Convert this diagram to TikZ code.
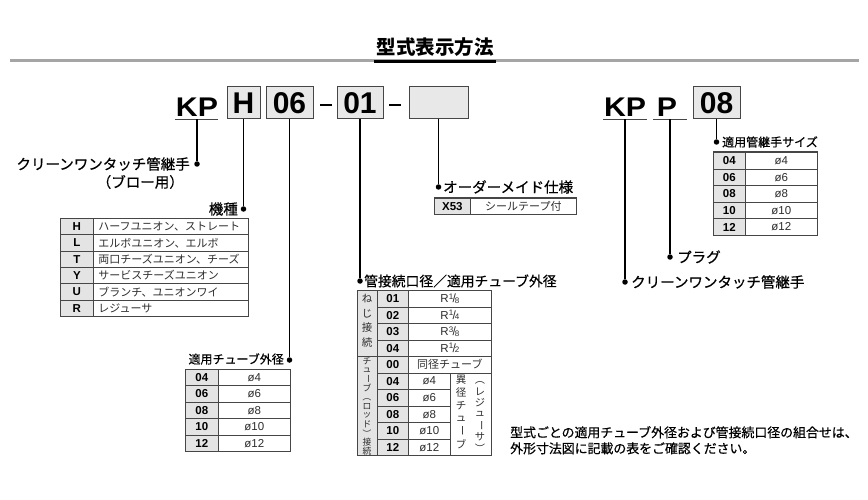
\documentclass[tikz,border=0pt]{standalone}
\usepackage{fontspec}
\setmainfont{Liberation Sans}
\newfontfamily\jp{Noto Sans CJK JP}
\newfontfamily\jpm[FakeBold=0.6]{Noto Sans CJK JP}
\definecolor{rulegray}{RGB}{165,165,165}
\definecolor{cellgray}{RGB}{228,228,228}
\definecolor{boxgray}{RGB}{232,232,232}
\definecolor{gridc}{RGB}{70,70,70}
\definecolor{txtc}{RGB}{45,45,45}
\newcommand\myfrac[2]{\raisebox{3.6pt}{\fontsize{8}{8}\selectfont #1}\kern-0.6pt{\fontsize{12}{12}\selectfont /}\kern-1.2pt\raisebox{-0.6pt}{\fontsize{8}{8}\selectfont #2}}
\begin{document}
\begin{tikzpicture}[x=1pt,y=-1pt,
  conn/.style={line width=1.1pt,black},
  dot/.style={circle,fill=black,inner sep=0pt,minimum size=5.5pt},
  lbl/.style={inner sep=0pt,font=\jpm\fontsize{14.5}{14.5}\selectfont},
  slbl/.style={inner sep=0pt,font=\jpm\fontsize{12}{12}\selectfont},
  bigtxt/.style={inner sep=0pt,anchor=base,font=\bfseries\fontsize{27}{27}\selectfont},
  codebox/.style={draw=gridc,line width=1pt,fill=boxgray,inner sep=0pt,minimum height=32pt,font=\bfseries\fontsize{30}{30}\selectfont},
  codecell/.style={draw=gridc,line width=0.7pt,fill=cellgray,inner sep=0pt,anchor=north west,font=\bfseries\fontsize{11.5}{11.5}\selectfont},
  valcell/.style={draw=gridc,line width=0.7pt,fill=white,inner sep=0pt,anchor=north west,text=txtc,font=\fontsize{11.5}{11.5}\selectfont},
  jcell/.style={draw=gridc,line width=0.7pt,fill=white,inner xsep=5pt,inner ysep=0pt,anchor=north west,align=left,text=txtc,font=\jp\fontsize{11}{11}\selectfont},
  vtxt/.style={inner sep=0pt,text=txtc,font=\jp\fontsize{10.5}{10.5}\selectfont},
  vstxt/.style={inner sep=0pt,text=txtc,font=\jp\fontsize{8.8}{8.8}\selectfont},
  vmtxt/.style={inner sep=0pt,text=txtc,font=\jp\fontsize{10.2}{10.2}\selectfont},
  frame/.style={draw=gridc,line width=1pt}
]
\useasboundingbox (0,0) rectangle (868,500);

% header
\node[inner sep=0pt,anchor=base,font=\jp\bfseries\fontsize{19.5}{19.5}\selectfont] (title) at (435,55) {型式表示方法};
\draw[rulegray,line width=3pt] (10,61) -- (859,61);
\draw[black,line width=2.6pt] (374,61.5) -- (496,61.5);

% ---------- KP H 06 - 01 - [ ] ----------
\node[bigtxt] (kp1) at (197,117) {\scalebox{1.12}[1]{KP}};
\draw[gridc,line width=1pt] (175,119.5) -- (218,119.5);
\coordinate (kp1u) at (197,119.5);
\node[codebox,minimum width=33pt] (hb) at (243.5,103) {H};
\node[codebox,minimum width=47pt] (b06) at (289.5,103) {06};
\draw[line width=2.6pt] (320,105) -- (332,105);
\node[codebox,minimum width=46pt] (b01) at (360,103) {01};
\draw[line width=2.6pt] (389,105) -- (401,105);
\node[codebox,minimum width=59pt] (bopt) at (438.5,103) {};

% dots
\node[dot] (d1) at (197,164) {};
\node[dot] (d2) at (243.5,209) {};
\node[dot] (d3) at (289.5,360) {};
\node[dot] (d4) at (360,281) {};
\node[dot] (d5) at (438.5,187) {};
\draw[conn] (kp1u) -- (d1);
\draw[conn] (hb.south) -- (d2);
\draw[conn] (b06.south) -- (d3);
\draw[conn] (b01.south) -- (d4);
\draw[conn] (bopt.south) -- (d5);

% labels
\node[lbl,anchor=east] (l1) at (190,164) {クリーンワンタッチ管継手};
\node[lbl,anchor=east] (l1b) at (184,182) {（ブロー用）};
\node[lbl,anchor=east] (l2) at (238,209) {機種};
\node[slbl,anchor=east] (l3) at (284,359) {適用チューブ外径};
\node[lbl,anchor=west,font=\jpm\fontsize{13.8}{13.8}\selectfont] (l4) at (364,281) {管接続口径／適用チューブ外径};
\node[lbl,anchor=west] (l5) at (443,187) {オーダーメイド仕様};

% table: kind
\foreach \c/\t [count=\i from 0] in {H/ハーフユニオン、ストレート,L/エルボユニオン、エルボ,T/両口チーズユニオン、チーズ,Y/サービスチーズユニオン,U/ブランチ、ユニオンワイ,R/レジューサ}{
  \node[codecell,minimum width=33pt,minimum height=16.33pt] (ka\i) at (60,218+\i*16.33) {\c};
  \node[jcell,text width=145pt,minimum height=16.33pt] (kb\i) at (93,218+\i*16.33) {\t};
}
\draw[frame] (60,218) rectangle (248,316);

% table: tube OD
\foreach \c/\t [count=\i from 0] in {04/4,06/6,08/8,10/10,12/12}{
  \node[codecell,minimum width=33pt,minimum height=16.4pt] (ta\i) at (185,369+\i*16.4) {\c};
  \node[valcell,minimum width=72pt,minimum height=16.4pt] (tb\i) at (218,369+\i*16.4) {ø\t};
}
\draw[frame] (185,369) rectangle (290,451);

% table: X53
\node[codecell,minimum width=36pt,minimum height=16pt] (xa) at (434,198) {X53};
\node[jcell,minimum width=106pt,minimum height=16pt,align=center,inner xsep=0pt] (xb) at (470,198) {シールテープ付};
\draw[frame] (434,198) rectangle (576,214);

% middle table
\node[codecell,minimum width=20pt,minimum height=66pt] (ma) at (357,290) {};
\node[codecell,minimum width=20pt,minimum height=99pt] (mb) at (357,356) {};
\foreach \ch [count=\k from 0] in {ね,じ,接,続}{
  \node[vtxt] (mav\k) at (367,299+\k*14.5) {\ch};
}
\foreach \ch [count=\k from 0] in {チ,ュ,{\rotatebox[origin=c]{-90}{ー}},ブ,{\rotatebox[origin=c]{-90}{（}},ロ,ッ,ド,{\rotatebox[origin=c]{-90}{）}},接,続}{
  \node[vstxt] (mbv\k) at (367,361+\k*9.05) {\ch};
}
\foreach \c [count=\i from 0] in {01,02,03,04,00,04,06,08,10,12}{
  \node[codecell,minimum width=31pt,minimum height=16.5pt] (mc\i) at (377,290+\i*16.5) {\c};
}
\foreach \n/\d [count=\i from 0] in {1/8,1/4,3/8,1/2}{
  \node[valcell,minimum width=83pt,minimum height=16.5pt] (mr\i) at (408,290+\i*16.5) {R\myfrac{\n}{\d}};
}
\node[jcell,minimum width=83pt,minimum height=16.5pt,align=center,inner xsep=0pt] (msame) at (408,356) {同径チューブ};
\foreach \t [count=\i from 0] in {4,6,8,10,12}{
  \node[valcell,minimum width=42pt,minimum height=16.5pt] (mt\i) at (408,372.5+\i*16.5) {ø\t};
}
\node[valcell,minimum width=41pt,minimum height=82.5pt] (mdiff) at (450,372.5) {};
\foreach \ch [count=\k from 0] in {異,径,チ,ュ,{\rotatebox[origin=c]{-90}{ー}},ブ}{
  \node[vtxt] (mdl\k) at (461,380+\k*12.8) {\ch};
}
\foreach \ch [count=\k from 0] in {{\rotatebox[origin=c]{-90}{（}},レ,ジ,ュ,{\rotatebox[origin=c]{-90}{ー}},サ,{\rotatebox[origin=c]{-90}{）}}}{
  \node[vmtxt] (mdr\k) at (480,380+\k*11.4) {\ch};
}
\draw[frame] (357,290) rectangle (491,455);

% ---------- KP P 08 ----------
\node[bigtxt] (kp2) at (625,117) {\scalebox{1.12}[1]{KP}};
\draw[gridc,line width=1pt] (603,119.5) -- (647,119.5);
\coordinate (kp2u) at (625,119.5);
\node[bigtxt] (pp) at (667,117) {\scalebox{1.12}[1]{P}};
\draw[gridc,line width=1pt] (653,119.5) -- (687,119.5);
\coordinate (ppu) at (670,119.5);
\node[codebox,minimum width=47pt] (b08) at (716.5,103) {08};

\node[dot] (d6) at (716.5,142) {};
\node[dot] (d7) at (670,257) {};
\node[dot] (d8) at (625,282) {};
\draw[conn] (b08.south) -- (d6);
\draw[conn] (ppu) -- (d7);
\draw[conn] (kp2u) -- (d8);
\node[slbl,anchor=west] (l6) at (722,142) {適用管継手サイズ};
\node[lbl,anchor=west] (l7) at (677,257) {プラグ};
\node[lbl,anchor=west] (l8) at (631,282) {クリーンワンタッチ管継手};

\foreach \c/\t [count=\i from 0] in {04/4,06/6,08/8,10/10,12/12}{
  \node[codecell,minimum width=32pt,minimum height=16.6pt] (ra\i) at (713,152+\i*16.6) {\c};
  \node[valcell,minimum width=72pt,minimum height=16.6pt] (rb\i) at (745,152+\i*16.6) {ø\t};
}
\draw[frame] (713,152) rectangle (817,235);

% note
\node[inner sep=0pt,anchor=north west,align=left,font=\jpm\fontsize{12.9}{16}\selectfont] (note) at (510,426) {型式ごとの適用チューブ外径および管接続口径の組合せは、\\外形寸法図に記載の表をご確認ください。};
\end{tikzpicture}
\end{document}
